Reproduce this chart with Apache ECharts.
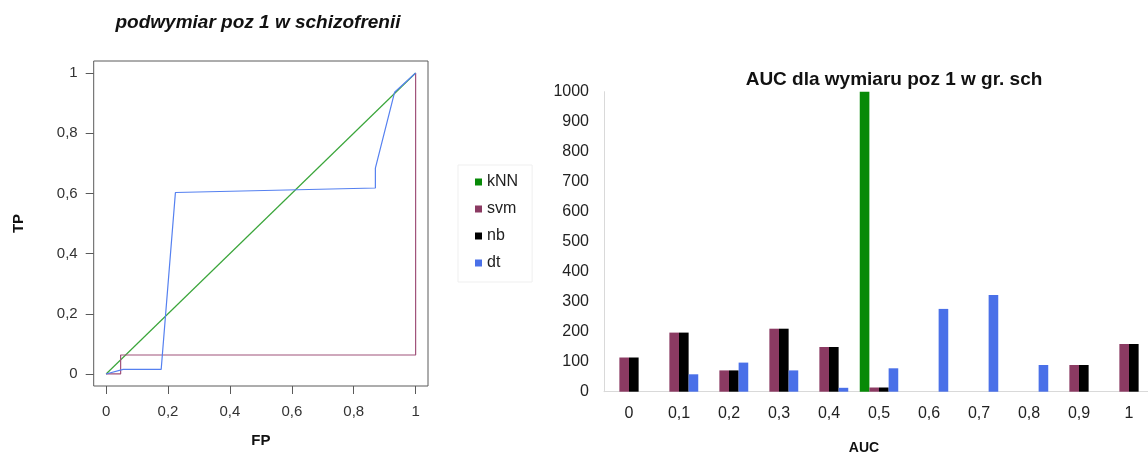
<!DOCTYPE html>
<html>
<head>
<meta charset="utf-8">
<script src="https://cdn.jsdelivr.net/npm/echarts@6/dist/echarts.min.js"></script>
<style>
  html, body { margin: 0; padding: 0; background: #fff; }
  #chart { width: 1148px; height: 456px; }
</style>
</head>
<body>
<div id="chart"></div>
<script>
// ROC curves (false positive rate vs true positive rate)
const rocKnnFP = [0, 1];
const rocKnnTP = [0, 1];
const rocSvmFP = [0, 0.047, 0.047, 1, 1];
const rocSvmTP = [0, 0, 0.063, 0.063, 1];
const rocDtFP = [0, 0.055, 0.178, 0.224, 0.87, 0.87, 0.932, 1];
const rocDtTP = [0, 0.015, 0.015, 0.603, 0.618, 0.684, 0.936, 1];
const rocTicks = [0, 0.2, 0.4, 0.6, 0.8, 1];

// AUC histogram
const aucBins = ['0', '0,1', '0,2', '0,3', '0,4', '0,5', '0,6', '0,7', '0,8', '0,9', '1'];
const knnCounts = [0, 0, 0, 0, 0, 1000, 0, 0, 0, 0, 0];
const svmCounts = [114, 197, 71, 210, 149, 14, 0, 0, 0, 89, 159];
const nbCounts  = [114, 197, 71, 210, 149, 14, 0, 0, 0, 89, 159];
const dtCounts  = [0, 58, 97, 71, 13, 78, 276, 322, 89, 0, 0];

const methods = ['kNN', 'svm', 'nb', 'dt'];
const barColors = { kNN: '#078a07', svm: '#8b3a62', nb: '#000000', dt: '#4a70e8' };
const lineColors = { kNN: '#3aa53a', svm: '#a0527a', dt: '#5580f0' };

const pairs = (xs, ys) => xs.map((x, i) => [x, ys[i]]);
const comma = v => String(+(+v).toFixed(2)).replace('.', ',');
const font = 'Liberation Sans, Arial, sans-serif';

const chart = echarts.init(document.getElementById('chart'), null, { renderer: 'canvas' });

const barSeries = methods.map(m => ({
  name: m,
  type: 'bar',
  xAxisIndex: 1,
  yAxisIndex: 1,
  barGap: '0%',
  barCategoryGap: '23%',
  itemStyle: { color: barColors[m] },
  data: { kNN: knnCounts, svm: svmCounts, nb: nbCounts, dt: dtCounts }[m]
}));

const rocLine = (name, xs, ys) => ({
  name,
  type: 'line',
  xAxisIndex: 0,
  yAxisIndex: 0,
  symbol: 'none',
  clip: false,
  lineStyle: { color: lineColors[name], width: 1.2 },
  data: pairs(xs, ys)
});

chart.setOption({
  animation: false,
  textStyle: { fontFamily: font },
  title: [
    {
      text: 'podwymiar poz 1 w schizofrenii',
      left: 258, top: 13, textAlign: 'center', padding: 0,
      textStyle: { fontSize: 19, fontWeight: 'bold', fontStyle: 'italic', color: '#111', fontFamily: font }
    },
    {
      text: 'AUC dla wymiaru poz 1 w gr. sch',
      left: 894, top: 70, textAlign: 'center', padding: 0,
      textStyle: { fontSize: 19, fontWeight: 'bold', color: '#111', fontFamily: font }
    }
  ],
  legend: {
    orient: 'vertical',
    left: 458, top: 165,
    padding: [8, 14, 10, 17],
    borderColor: '#efefef', borderWidth: 1,
    itemWidth: 7, itemHeight: 7, itemGap: 9,
    icon: 'rect',
    textStyle: { fontSize: 16, color: '#222', lineHeight: 18, fontFamily: font },
    data: methods.map(m => ({ name: m, itemStyle: { color: barColors[m] } }))
  },
  grid: [
    { left: 93.7, top: 61, width: 334.3, height: 325, outerBoundsMode: 'none', show: true, borderColor: '#5a5a5a', borderWidth: 1, backgroundColor: 'transparent' },
    { left: 604, top: 91.7, width: 550, height: 300, outerBoundsMode: 'none' }
  ],
  xAxis: [
    {
      gridIndex: 0, type: 'value', min: -0.04, max: 1.04,
      name: 'FP', nameLocation: 'middle', nameGap: 47,
      nameTextStyle: { fontSize: 15, fontWeight: 'bold', color: '#111' },
      axisLine: { show: false, onZero: false },
      axisTick: { show: true, length: 8, customValues: rocTicks, lineStyle: { color: '#5a5a5a' } },
      axisLabel: { fontSize: 15, color: '#333', margin: 18, customValues: rocTicks, formatter: comma },
      splitLine: { show: false }
    },
    {
      gridIndex: 1, type: 'category', data: aucBins,
      name: 'AUC', nameLocation: 'middle', nameGap: 49,
      nameTextStyle: { fontSize: 14, fontWeight: 'bold', color: '#111', padding: [0, 30, 0, 0] },
      axisLine: { show: true, lineStyle: { color: '#d9d9d9' } },
      axisTick: { show: false },
      axisLabel: { fontSize: 16, color: '#222', margin: 14 }
    }
  ],
  yAxis: [
    {
      gridIndex: 0, type: 'value', min: -0.04, max: 1.04,
      name: 'TP', nameLocation: 'middle', nameGap: 67,
      nameTextStyle: { fontSize: 15, fontWeight: 'bold', color: '#111' },
      axisLine: { show: false, onZero: false },
      axisTick: { show: true, length: 8, customValues: rocTicks, lineStyle: { color: '#5a5a5a' } },
      axisLabel: { fontSize: 15, color: '#333', margin: 16, customValues: rocTicks, formatter: comma },
      splitLine: { show: false }
    },
    {
      gridIndex: 1, type: 'value', min: 0, max: 1000, interval: 100,
      axisLine: { show: true, lineStyle: { color: '#d9d9d9' } },
      axisTick: { show: false },
      axisLabel: { fontSize: 16, color: '#222', margin: 15, formatter: v => String(v) },
      splitLine: { show: false }
    }
  ],
  series: [
    ...barSeries,
    rocLine('kNN', rocKnnFP, rocKnnTP),
    rocLine('svm', rocSvmFP, rocSvmTP),
    rocLine('dt', rocDtFP, rocDtTP)
  ]
});
</script>
</body>
</html>
